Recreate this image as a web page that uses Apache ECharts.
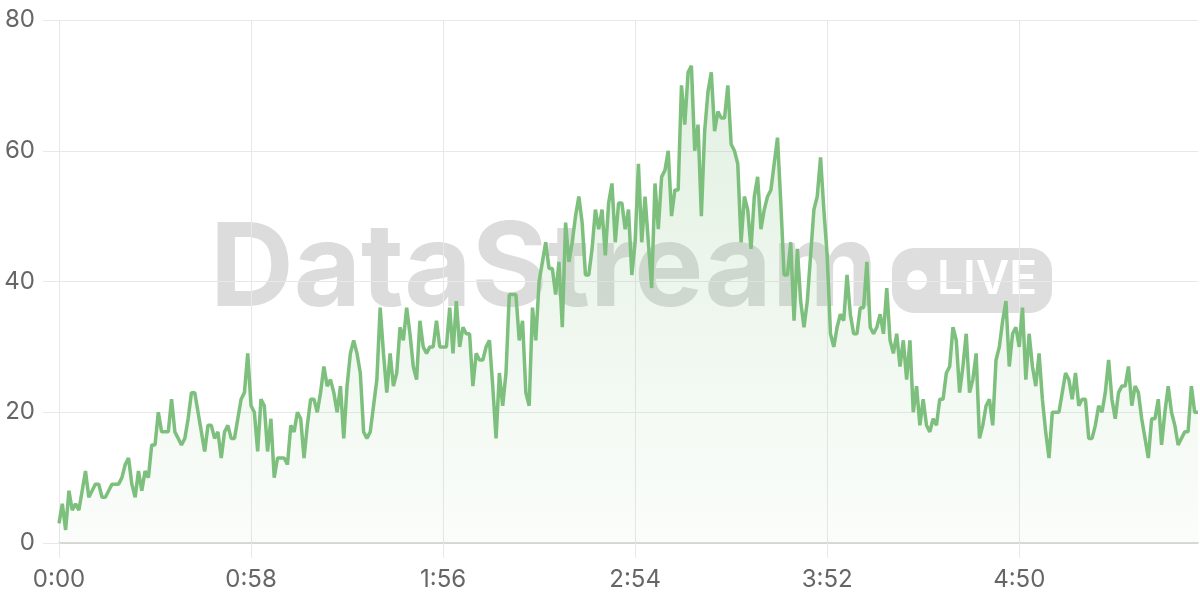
<!DOCTYPE html>
<html>
<head>
<meta charset="utf-8">
<script src="https://cdn.jsdelivr.net/npm/echarts@6/dist/echarts.min.js"></script>
<style>
  html, body { margin: 0; padding: 0; background: #fff; }
  #chart { width: 1200px; height: 600px; }
</style>
</head>
<body>
<div id="chart"></div>
<script>
// One reading per second, 0:00 .. 5:44
const values = [
  3, 6, 2, 8, 5, 6, 5, 8, 11, 7,
  8, 9, 9, 7, 7, 8, 9, 9, 9, 10,
  12, 13, 9, 7, 11, 8, 11, 10, 15, 15,
  20, 17, 17, 17, 22, 17, 16, 15, 16, 19,
  23, 23, 20, 17, 14, 18, 18, 16, 17, 13,
  17, 18, 16, 16, 19, 22, 23, 29, 21, 20,
  14, 22, 21, 14, 19, 10, 13, 13, 13, 12,
  18, 17, 20, 19, 13, 18, 22, 22, 20, 23,
  27, 24, 25, 23, 20, 24, 16, 24, 29, 31,
  29, 26, 17, 16, 17, 21, 25, 36, 29, 23,
  29, 24, 26, 33, 31, 36, 32, 27, 25, 34,
  30, 29, 30, 30, 34, 30, 30, 30, 36, 29,
  37, 30, 33, 32, 32, 24, 29, 28, 28, 30,
  31, 24, 16, 26, 21, 26, 38, 38, 38, 31,
  34, 23, 21, 36, 31, 40, 43, 46, 42, 42,
  38, 43, 33, 49, 43, 46, 50, 53, 49, 41,
  41, 45, 51, 48, 51, 44, 52, 55, 46, 52,
  52, 48, 51, 41, 46, 58, 46, 53, 46, 39,
  55, 48, 56, 57, 60, 50, 54, 54, 70, 64,
  72, 73, 60, 64, 50, 63, 69, 72, 63, 66,
  65, 65, 70, 61, 60, 58, 46, 53, 51, 45,
  53, 56, 48, 51, 53, 54, 58, 62, 52, 41,
  41, 46, 34, 45, 37, 33, 37, 44, 51, 53,
  59, 51, 44, 32, 30, 33, 35, 34, 41, 35,
  32, 32, 36, 36, 43, 33, 32, 33, 35, 32,
  39, 31, 29, 32, 27, 31, 25, 31, 20, 24,
  18, 22, 18, 17, 19, 18, 22, 22, 26, 27,
  33, 31, 23, 27, 32, 23, 25, 29, 16, 18,
  21, 22, 18, 28, 30, 34, 37, 27, 32, 33,
  30, 36, 25, 32, 27, 24, 29, 22, 17, 13,
  20, 20, 20, 23, 26, 25, 22, 26, 21, 22,
  22, 16, 16, 18, 21, 20, 23, 28, 22, 19,
  23, 24, 24, 27, 21, 24, 23, 19, 16, 13,
  19, 19, 22, 15, 20, 24, 20, 18, 15, 16,
  17, 17, 24, 20, 20
];
const yTicks = [0, 20, 40, 60, 80];
const tickLabels = ['0:00', '0:58', '1:56', '2:54', '3:52', '4:50'];

function fmt(sec) {
  const m = Math.floor(sec / 60);
  const s = sec % 60;
  return m + ':' + (s < 10 ? '0' : '') + s;
}
const categories = values.map((_, i) => fmt(i));
const labelStep = 58;

const chart = echarts.init(document.getElementById('chart'), null, { renderer: 'canvas' });
const FONT = 'Inter, "Noto Sans", sans-serif';
const GRID = '#e8e8e8';

chart.setOption({
  animation: false,
  backgroundColor: '#ffffff',
  grid: { left: 59, right: 2, top: 20, bottom: 57, containLabel: false },
  graphic: {
    z: -10,
    zlevel: 0,
    elements: [
      {
        type: 'text',
        left: 210,
        top: 213,
        z: -10,
        style: {
          text: 'DataStream',
          fill: '#dcdcdc',
          font: 'bold 116px ' + FONT
        }
      },
      {
        type: 'group',
        left: 892,
        top: 248,
        z: -10,
        children: [
          {
            type: 'rect',
            shape: { x: 0, y: 0, width: 160, height: 65, r: 22 },
            style: { fill: '#dedede' }
          },
          {
            type: 'circle',
            shape: { cx: 25, cy: 32, r: 10 },
            style: { fill: '#ffffff' }
          },
          {
            type: 'text',
            x: 45,
            y: 32,
            style: {
              text: 'LIVE',
              fill: '#ffffff',
              font: '600 46px ' + FONT,
              textVerticalAlign: 'middle',
              verticalAlign: 'middle'
            }
          }
        ]
      }
    ]
  },
  xAxis: {
    type: 'category',
    data: categories,
    boundaryGap: false,
    axisLine: { show: true, lineStyle: { color: '#d0d0d0', width: 1.5 } },
    axisTick: {
      show: true,
      interval: labelStep - 1,
      length: 15,
      lineStyle: { color: GRID }
    },
    axisLabel: {
      interval: labelStep - 1,
      color: '#666',
      fontSize: 24,
      fontFamily: FONT,
      margin: 25
    },
    splitLine: {
      show: true,
      interval: labelStep - 1,
      lineStyle: { color: GRID, width: 1 }
    }
  },
  yAxis: {
    type: 'value',
    min: yTicks[0],
    max: yTicks[yTicks.length - 1],
    interval: yTicks[1] - yTicks[0],
    axisLine: { show: false },
    axisTick: { show: true, length: 16, lineStyle: { color: GRID } },
    axisLabel: {
      color: '#666',
      fontSize: 24,
      fontFamily: FONT,
      margin: 24
    },
    splitLine: { show: true, lineStyle: { color: GRID, width: 1 } }
  },
  series: [
    {
      type: 'line',
      data: values,
      showSymbol: false,
      symbol: 'none',
      smooth: false,
      z: 3,
      lineStyle: { color: '#7dbf7d', width: 3.5 },
      itemStyle: { color: '#7dbf7d' },
      areaStyle: {
        color: new echarts.graphic.LinearGradient(0, 0, 0, 1, [
          { offset: 0, color: 'rgba(125,191,125,0.32)' },
          { offset: 1, color: 'rgba(125,191,125,0.05)' }
        ])
      }
    }
  ]
});
</script>
</body>
</html>
